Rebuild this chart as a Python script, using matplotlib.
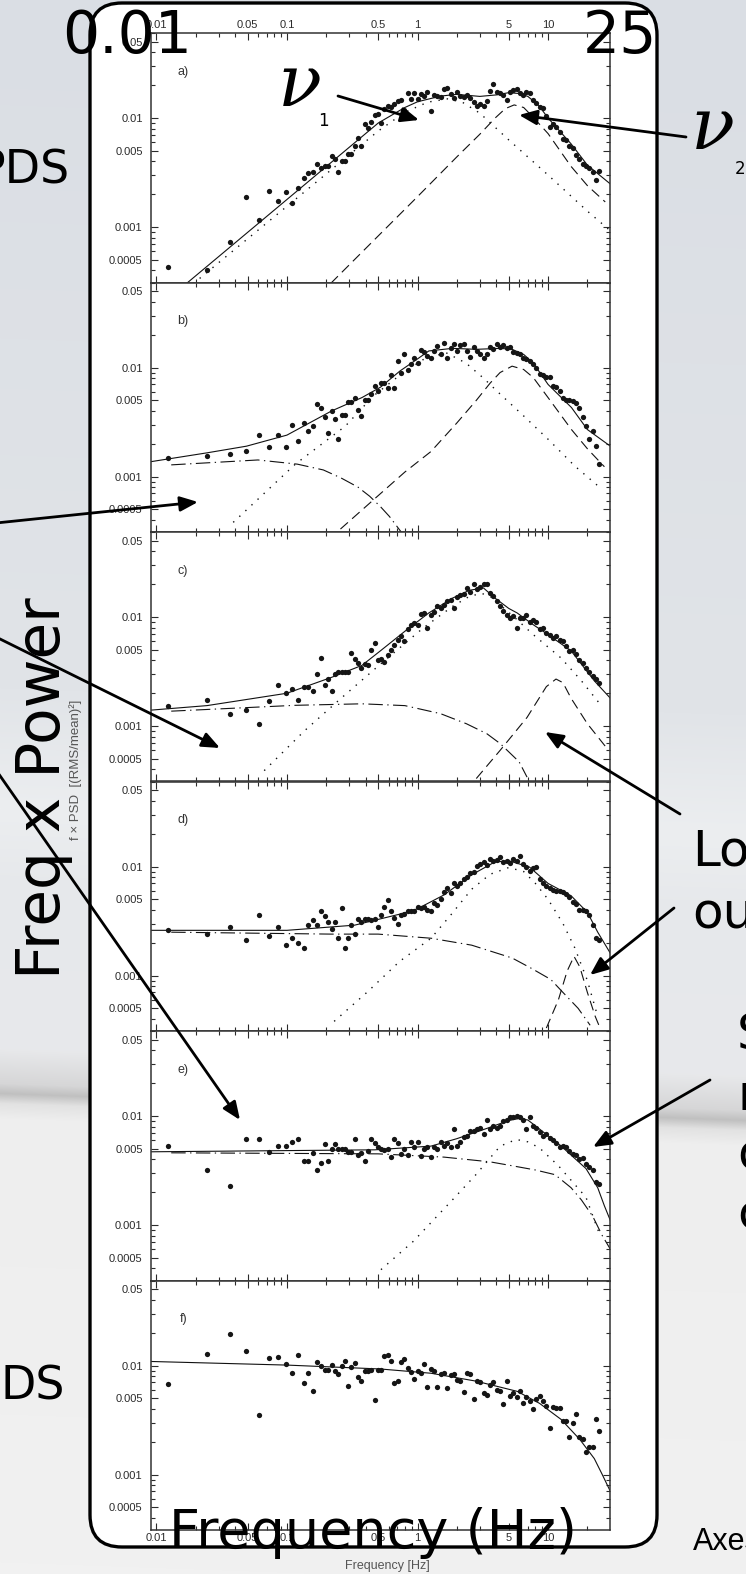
import matplotlib.pyplot as plt
import numpy as np
from matplotlib.patches import FancyBboxPatch
from matplotlib.ticker import NullFormatter

plt.rcParams["font.family"] = ["Liberation Sans", "DejaVu Sans"]

# frequency bins (Hz), shared by all six power spectra
freq = [0.0122, 0.0244, 0.0366, 0.0488, 0.0610, 0.0732, 0.0854, 0.0976, 0.110, 0.122,
        0.134, 0.146, 0.159, 0.171, 0.183, 0.195, 0.207,
        0.220, 0.233, 0.247, 0.262, 0.277, 0.294, 0.312, 0.330, 0.350, 0.371,
        0.394, 0.417, 0.442, 0.469, 0.497, 0.527, 0.558, 0.592, 0.627, 0.665,
        0.705, 0.747, 0.792, 0.839, 0.890, 0.943, 1.000, 1.060, 1.123, 1.190,
        1.262, 1.338, 1.418, 1.503, 1.593, 1.689, 1.790, 1.897, 2.011, 2.132,
        2.259, 2.395, 2.539, 2.691, 2.852, 3.023, 3.205, 3.397, 3.601, 3.817,
        4.046, 4.289, 4.546, 4.819, 5.108, 5.414, 5.739, 6.083, 6.448, 6.835,
        7.244, 7.679, 8.140, 8.628, 9.146, 9.694, 10.28, 10.89, 11.55, 12.24,
        12.97, 13.75, 14.58, 15.45, 16.38, 17.36, 18.40, 19.50, 20.67, 21.91,
        23.23, 24.62]

# f x PSD, panels a) .. f)
psd_a = [0.00043, 0.0004, 0.00073, 0.00188, 0.00117, 0.00215, 0.00175, 0.0021, 0.00167, 0.0023,
         0.0028, 0.0031, 0.0032, 0.0038, 0.0035, 0.0036, 0.0036,
         0.0045, 0.0042, 0.0032, 0.0040, 0.0040, 0.0047, 0.0047, 0.0055, 0.0066, 0.0056,
         0.0089, 0.0081, 0.0092, 0.0107, 0.0110, 0.0091, 0.0120, 0.0129, 0.0125, 0.0135,
         0.0144, 0.0147, 0.0119, 0.0171, 0.0151, 0.0169, 0.0150, 0.0166, 0.0160, 0.0174,
         0.0117, 0.0163, 0.0160, 0.0157, 0.0183, 0.0187, 0.0165, 0.0152, 0.0174, 0.0160,
         0.0155, 0.0163, 0.0152, 0.0140, 0.0128, 0.0135, 0.0129, 0.0142, 0.0178, 0.0205,
         0.0174, 0.0171, 0.0163, 0.0147, 0.0174, 0.0180, 0.0183, 0.0171, 0.0163, 0.0174,
         0.0169, 0.0147, 0.0137, 0.0126, 0.0123, 0.0104, 0.0083, 0.0089, 0.0083, 0.0074,
         0.0064, 0.0063, 0.0055, 0.0053, 0.0046, 0.0042, 0.0038, 0.0036, 0.0035, 0.0032,
         0.0027, 0.0033]
psd_b = [0.00147, 0.00155, 0.0016, 0.00171, 0.0024, 0.00185, 0.0024, 0.00185, 0.0030, 0.0021,
         0.0031, 0.0026, 0.0029, 0.0046, 0.0043, 0.0035, 0.0025,
         0.0040, 0.0034, 0.0022, 0.0037, 0.0037, 0.0048, 0.0048, 0.0053, 0.0041, 0.0036,
         0.0050, 0.0050, 0.0057, 0.0068, 0.0061, 0.0072, 0.0072, 0.0065, 0.0086, 0.0065,
         0.0115, 0.0090, 0.0134, 0.0095, 0.0107, 0.0122, 0.0109, 0.0144, 0.0140, 0.0128,
         0.0122, 0.0142, 0.0158, 0.0134, 0.0169, 0.0123, 0.0152, 0.0163, 0.0142, 0.0161,
         0.0165, 0.0142, 0.0125, 0.0154, 0.0142, 0.0132, 0.0122, 0.0132, 0.0154, 0.0147,
         0.0165, 0.0154, 0.0161, 0.0150, 0.0154, 0.0140, 0.0137, 0.0134, 0.0123, 0.0119,
         0.0115, 0.0107, 0.0100, 0.0087, 0.0086, 0.0082, 0.0082, 0.0068, 0.0066, 0.0061,
         0.0053, 0.0050, 0.0050, 0.0049, 0.0047, 0.0043, 0.0035, 0.0029, 0.0022, 0.0026,
         0.0019, 0.0013]
psd_c = [0.00152, 0.00173, 0.0013, 0.0014, 0.00104, 0.0017, 0.0024, 0.0020, 0.0022, 0.00173,
         0.0023, 0.0023, 0.0021, 0.0030, 0.0042, 0.0024, 0.0027,
         0.0021, 0.0030, 0.0031, 0.0031, 0.0031, 0.0031, 0.0047, 0.0041, 0.0038, 0.0034,
         0.0037, 0.0036, 0.0050, 0.0058, 0.0040, 0.0041, 0.0039, 0.0045, 0.0050, 0.0056,
         0.0062, 0.0067, 0.0060, 0.0077, 0.0084, 0.0088, 0.0085, 0.0106, 0.0108, 0.0080,
         0.0105, 0.0112, 0.0125, 0.0120, 0.0130, 0.0139, 0.0143, 0.0122, 0.0154, 0.0160,
         0.0162, 0.0183, 0.0170, 0.0199, 0.0180, 0.0190, 0.0199, 0.0200, 0.0165, 0.0155,
         0.0139, 0.0125, 0.0113, 0.0105, 0.0099, 0.0103, 0.0080, 0.0098, 0.0097, 0.0105,
         0.0091, 0.0094, 0.0090, 0.0077, 0.0079, 0.0072, 0.0068, 0.0064, 0.0067, 0.0062,
         0.0060, 0.0054, 0.0049, 0.0050, 0.0046, 0.0040, 0.0038, 0.0034, 0.0031, 0.0029,
         0.0027, 0.0025]
psd_d = [0.0026, 0.0024, 0.0028, 0.0021, 0.0036, 0.0023, 0.0028, 0.0019, 0.0022, 0.0020,
         0.0018, 0.0029, 0.0032, 0.0029, 0.0039, 0.0035, 0.0031,
         0.0027, 0.0031, 0.0022, 0.0042, 0.0018, 0.0022, 0.0029, 0.0024, 0.0033, 0.0031,
         0.0033, 0.0033, 0.0032, 0.0033, 0.0028, 0.0036, 0.0043, 0.0049, 0.0039, 0.0034,
         0.0030, 0.0036, 0.0037, 0.0039, 0.0039, 0.0039, 0.0043, 0.0042, 0.0043, 0.0040,
         0.0039, 0.0046, 0.0044, 0.0050, 0.0058, 0.0063, 0.0057, 0.0070, 0.0067, 0.0071,
         0.0077, 0.0080, 0.0088, 0.0090, 0.0102, 0.0106, 0.0110, 0.0104, 0.0117, 0.0113,
         0.0115, 0.0122, 0.0110, 0.0112, 0.0108, 0.0117, 0.0113, 0.0126, 0.0106, 0.0100,
         0.0092, 0.0096, 0.0099, 0.0077, 0.0071, 0.0066, 0.0063, 0.0061, 0.0060, 0.0060,
         0.0058, 0.0056, 0.0053, 0.0047, 0.0045, 0.0040, 0.0040, 0.0039, 0.0036, 0.0029,
         0.0022, 0.0021]
psd_e = [0.0053, 0.0032, 0.0023, 0.0062, 0.0062, 0.0047, 0.0053, 0.0053, 0.0058, 0.0061,
         0.0039, 0.0039, 0.0046, 0.0032, 0.0037, 0.0055, 0.0039,
         0.0050, 0.0055, 0.0050, 0.0050, 0.0050, 0.0047, 0.0047, 0.0061, 0.0044, 0.0046,
         0.0039, 0.0048, 0.0061, 0.0057, 0.0052, 0.0050, 0.0049, 0.0050, 0.0042, 0.0062,
         0.0057, 0.0045, 0.0050, 0.0044, 0.0058, 0.0052, 0.0058, 0.0043, 0.0050, 0.0052,
         0.0042, 0.0052, 0.0050, 0.0058, 0.0053, 0.0057, 0.0052, 0.0076, 0.0053, 0.0058,
         0.0064, 0.0066, 0.0073, 0.0073, 0.0076, 0.0077, 0.0068, 0.0092, 0.0076, 0.0081,
         0.0078, 0.0081, 0.0090, 0.0092, 0.0097, 0.0099, 0.0100, 0.0097, 0.0092, 0.0076,
         0.0097, 0.0081, 0.0078, 0.0071, 0.0066, 0.0068, 0.0063, 0.0060, 0.0057, 0.0052,
         0.0053, 0.0052, 0.0048, 0.0045, 0.0044, 0.0040, 0.0041, 0.0036, 0.0034, 0.0032,
         0.0025, 0.0024]
psd_f = [0.0068, 0.0127, 0.0193, 0.0136, 0.0035, 0.0118, 0.0120, 0.0103, 0.0085, 0.0125,
         0.0069, 0.0086, 0.0058, 0.0107, 0.0100, 0.0091, 0.0091,
         0.0101, 0.0090, 0.0084, 0.0100, 0.0110, 0.0065, 0.0098, 0.0105, 0.0078, 0.0072,
         0.0090, 0.0090, 0.0091, 0.0048, 0.0092, 0.0091, 0.0122, 0.0124, 0.0109, 0.0069,
         0.0072, 0.0107, 0.0114, 0.0095, 0.0088, 0.0075, 0.0090, 0.0085, 0.0103, 0.0064,
         0.0093, 0.0090, 0.0064, 0.0084, 0.0085, 0.0062, 0.0082, 0.0083, 0.0074, 0.0072,
         0.0057, 0.0085, 0.0083, 0.0049, 0.0072, 0.0071, 0.0056, 0.0054, 0.0067, 0.0070,
         0.0060, 0.0058, 0.0044, 0.0072, 0.0053, 0.0056, 0.0052, 0.0058, 0.0045, 0.0052,
         0.0047, 0.0040, 0.0049, 0.0053, 0.0047, 0.0043, 0.0027, 0.0042, 0.0041, 0.0041,
         0.0031, 0.0031, 0.0022, 0.0030, 0.0036, 0.0022, 0.0021, 0.0016, 0.0018, 0.0018,
         0.0032, 0.0025]

# model curves (total fit and components)
a_tot_f = [0.0171, 0.1, 0.5, 0.8, 1.0, 1.5, 2.0, 3.0, 4.0, 5.0, 6.0, 7.0, 8.5, 10, 15, 20, 29.8]
a_tot = [0.000305, 0.00179, 0.0090, 0.0125, 0.0141, 0.0159, 0.0165, 0.0158, 0.0163, 0.0171,
         0.0168, 0.0158, 0.0130, 0.0100, 0.0058, 0.0037, 0.0025]
a_dot_f = [0.0171, 0.1, 0.5, 0.8, 1.2, 1.7, 2.2, 3.0, 5.0, 10, 20, 29.8]
a_dot = [0.00027, 0.00155, 0.0076, 0.0113, 0.0140, 0.0150, 0.0140, 0.0111, 0.0063, 0.0030, 0.0014, 0.00093]
a_dash_f = [0.217, 1.0, 2.0, 3.0, 3.93, 4.7, 5.5, 6.5, 7.5, 10, 15, 20, 27.4]
a_dash = [0.000305, 0.0019, 0.0044, 0.0071, 0.0100, 0.0122, 0.0132, 0.0125, 0.0105, 0.0072, 0.0036, 0.0024, 0.0017]

b_tot_f = [0.0091, 0.0244, 0.049, 0.1, 0.22, 0.375, 0.52, 0.734, 1.0, 1.22, 1.85, 2.82, 4.29, 5.3,
           6.5, 7.7, 10, 15.1, 20, 30]
b_tot = [0.00137, 0.00165, 0.0019, 0.0024, 0.0040, 0.0053, 0.0066, 0.0093, 0.0120, 0.0142, 0.0150,
         0.0147, 0.0150, 0.0147, 0.0132, 0.0110, 0.0070, 0.0043, 0.0027, 0.0019]
b_dd_f = [0.013, 0.06, 0.12, 0.19, 0.26, 0.35, 0.43, 0.52, 0.61, 0.75]
b_dd = [0.00128, 0.00142, 0.0013, 0.00115, 0.00097, 0.0008, 0.00066, 0.00053, 0.00043, 0.00031]
b_dot_f = [0.0388, 0.116, 0.28, 0.46, 0.75, 1.1, 1.65, 2.35, 3.2, 4.3, 6.5, 10, 16, 26]
b_dot = [0.00038, 0.0013, 0.0029, 0.0055, 0.0087, 0.0118, 0.0137, 0.0110, 0.0080, 0.0057, 0.0036,
         0.0022, 0.00125, 0.00076]
b_dash_f = [0.257, 0.48, 0.8, 1.27, 2.0, 2.82, 3.6, 4.29, 5.3, 6.5, 7.7, 10, 15.1, 20, 27]
b_dash = [0.00033, 0.00064, 0.0011, 0.0017, 0.0031, 0.0050, 0.0072, 0.0090, 0.0103, 0.0096, 0.0081,
          0.0053, 0.0027, 0.0018, 0.00123]

c_tot_f = [0.0091, 0.0244, 0.1, 0.22, 0.375, 0.52, 0.8, 1.22, 1.85, 2.5, 3.2, 3.9, 5.0, 5.8, 7.7,
           10, 15, 22.6, 30]
c_tot = [0.0014, 0.00154, 0.0020, 0.0028, 0.0036, 0.0049, 0.0074, 0.0109, 0.0149, 0.0176, 0.0185,
         0.0150, 0.0120, 0.0109, 0.0085, 0.0069, 0.0049, 0.0026, 0.0018]
c_dd_f = [0.013, 0.116, 0.375, 0.8, 1.5, 2.37, 3.4, 4.3, 6.0, 6.9]
c_dd = [0.00137, 0.00155, 0.0016, 0.00154, 0.0013, 0.00105, 0.00085, 0.00069, 0.00047, 0.00034]
c_dot_f = [0.067, 0.137, 0.26, 0.52, 1.1, 1.85, 2.5, 3.1, 3.8, 4.6, 5.5, 7.7, 12.6, 18, 26]
c_dot = [0.00039, 0.00091, 0.0018, 0.0037, 0.0079, 0.0125, 0.0155, 0.0165, 0.0150, 0.0120, 0.0100,
         0.0069, 0.0042, 0.0026, 0.0015]
c_dash_f = [2.82, 4.3, 6.9, 9.7, 11.5, 13, 15, 20, 29]
c_dash = [0.00033, 0.0006, 0.0012, 0.0023, 0.0027, 0.0025, 0.0018, 0.00105, 0.0006]

d_tot_f = [0.0091, 0.1, 0.33, 0.76, 1.0, 1.6, 2.6, 3.9, 5.0, 7.2, 10, 15, 20, 24, 30]
d_tot = [0.0026, 0.0026, 0.0029, 0.0037, 0.0041, 0.0055, 0.0084, 0.0110, 0.0113, 0.0099, 0.0070,
         0.0054, 0.0038, 0.0025, 0.0016]
d_dd_f = [0.013, 0.22, 0.5, 1.27, 2.6, 5.3, 7.4, 10.5, 13, 17, 21]
d_dd = [0.0025, 0.0024, 0.0024, 0.0022, 0.0019, 0.00145, 0.00117, 0.00092, 0.0007, 0.0005, 0.00035]
d_dot_f = [0.23, 0.42, 0.73, 1.27, 1.8, 2.6, 3.6, 5.0, 6.5, 8, 10, 13, 16, 20, 24]
d_dot = [0.00038, 0.00072, 0.00135, 0.0022, 0.0036, 0.0062, 0.0085, 0.0098, 0.0090, 0.0070, 0.0050,
         0.0030, 0.0018, 0.0009, 0.00042]
d_dash_f = [9.7, 12, 14, 15.8, 17.5, 20, 23, 25]
d_dash = [0.00033, 0.0006, 0.0011, 0.0015, 0.0012, 0.0007, 0.00042, 0.00033]

e_tot_f = [0.0091, 0.47, 1.27, 2.0, 3.5, 5.0, 6.0, 7.0, 8.6, 12.6, 19.5, 24, 27, 30]
e_tot = [0.0047, 0.0049, 0.0053, 0.0062, 0.0078, 0.0091, 0.0095, 0.0092, 0.0076, 0.0053, 0.0033,
         0.0022, 0.0015, 0.0011]
e_dd_f = [0.013, 0.5, 1.6, 3.6, 5.3, 8, 11.3, 15, 18, 22, 26, 30]
e_dd = [0.0046, 0.0045, 0.0042, 0.0038, 0.0035, 0.0032, 0.0029, 0.0022, 0.0017, 0.0012, 0.0008, 0.0006]
e_dot_f = [0.525, 0.93, 1.85, 2.8, 4.3, 5.7, 7.0, 8.6, 12, 19.5, 25]
e_dot = [0.00039, 0.00071, 0.0017, 0.0029, 0.0053, 0.0061, 0.0058, 0.0051, 0.0035, 0.0018, 0.0008]

f_tot_f = [0.0091, 0.1, 0.52, 1.27, 2.8, 5.8, 8.6, 12.6, 17.5, 22.6, 26, 30]
f_tot = [0.0109, 0.0101, 0.0093, 0.0085, 0.0072, 0.0058, 0.0045, 0.0032, 0.0021, 0.0014, 0.0010, 0.0007]

panel_tags = ["a)", "b)", "c)", "d)", "e)", "f)"]
x_ticks = [0.01, 0.05, 0.1, 0.5, 1, 5, 10]
x_ticklabels = ["0.01", "0.05", "0.1", "0.5", "1", "5", "10"]
y_ticks = [0.0005, 0.001, 0.005, 0.01, 0.05]
y_ticklabels = ["0.0005", "0.001", "0.005", "0.01", "0.05"]

styles = {
    "solid": dict(ls="-", lw=0.8),
    "dotted": dict(ls=(0, (1, 5)), lw=1.0),
    "dashed": dict(ls=(0, (9, 5)), lw=0.8),
    "dashdot": dict(ls=(0, (13, 4, 1.2, 4)), lw=0.8),
}
panels = [
    (psd_a, [(a_tot_f, a_tot, "solid"), (a_dot_f, a_dot, "dotted"), (a_dash_f, a_dash, "dashed")]),
    (psd_b, [(b_tot_f, b_tot, "solid"), (b_dd_f, b_dd, "dashdot"), (b_dot_f, b_dot, "dotted"),
             (b_dash_f, b_dash, "dashed")]),
    (psd_c, [(c_tot_f, c_tot, "solid"), (c_dd_f, c_dd, "dashdot"), (c_dot_f, c_dot, "dotted"),
             (c_dash_f, c_dash, "dashed")]),
    (psd_d, [(d_tot_f, d_tot, "solid"), (d_dd_f, d_dd, "dashdot"), (d_dot_f, d_dot, "dotted"),
             (d_dash_f, d_dash, "dashed")]),
    (psd_e, [(e_tot_f, e_tot, "solid"), (e_dd_f, e_dd, "dashdot"), (e_dot_f, e_dot, "dotted")]),
    (psd_f, [(f_tot_f, f_tot, "solid")]),
]

W, H = 746, 1574
fig = plt.figure(figsize=(W / 100, H / 100), dpi=100)

# slide background (snowy photo, approximated by a soft vertical gradient)
bg = fig.add_axes([0, 0, 1, 1], zorder=0)
stop_y = [0, 700, 820, 900, 1060, 1095, 1105, 1115, 1130, 1574]
stop_rgb = [(218, 222, 228), (225, 228, 232), (236, 238, 240), (230, 232, 235), (232, 233, 235),
            (214, 214, 215), (192, 192, 192), (226, 226, 226), (238, 238, 238), (241, 241, 241)]
rows = np.arange(H)[:, None] - (np.arange(W)[None, :] / W * 27 - 12)
img = np.stack([np.interp(rows, stop_y, [c[k] for c in stop_rgb]) for k in range(3)], axis=-1) / 255
bg.imshow(img, extent=(0, W, H, 0), aspect="auto", interpolation="bilinear")
bg.add_patch(FancyBboxPatch((90, 3), 567, 1544, boxstyle="round,pad=0,rounding_size=32",
                            fc="white", ec="black", lw=2.4))
bg.set_xlim(0, W)
bg.set_ylim(H, 0)
bg.axis("off")

# the six stacked log-log panels
ph = 249.5
for i, (psd, curves) in enumerate(panels):
    top = 33 + ph * i
    ax = fig.add_axes([151 / W, 1 - (top + ph) / H, 459 / W, ph / H], zorder=2)
    ax.set_xscale("log")
    ax.set_yscale("log")
    for cf, cv, st in curves:
        ax.plot(cf, cv, color="#111111", **styles[st])
    ax.plot(freq, psd, "o", ms=3.8, color="#151515", mec="none")
    ax.set_xlim(0.0091, 29.8)
    ax.set_ylim(0.00031, 0.0603)
    ax.set_xticks(x_ticks, x_ticklabels)
    ax.set_yticks(y_ticks, y_ticklabels)
    ax.xaxis.set_minor_formatter(NullFormatter())
    ax.yaxis.set_minor_formatter(NullFormatter())
    ax.tick_params(which="both", direction="in", top=True, right=True, colors="#2b2b2b",
                   labelsize=8, width=0.8)
    ax.tick_params(which="major", length=5)
    ax.tick_params(which="minor", length=2.8)
    ax.tick_params(axis="y", pad=6)
    ax.tick_params(axis="x", pad=2, labeltop=(i == 0), labelbottom=(i == 5))
    for sp in ax.spines.values():
        sp.set_color("#333333")
        sp.set_linewidth(1.1)
    ax.text(0.07, 0.845, panel_tags[i], transform=ax.transAxes, fontsize=9,
            color="#333333", ha="center", va="center")

# overlay: axis titles, slide annotations and arrows, in pixel coordinates
ov = fig.add_axes([0, 0, 1, 1], zorder=10)
ov.set_xlim(0, W)
ov.set_ylim(H, 0)
ov.axis("off")
ov.patch.set_alpha(0)

ov.text(76, 770, "f × PSD  [(RMS/mean)²]", rotation=90, ha="center", va="center",
        fontsize=9.5, color="#555555")
ov.text(387, 1566, "Frequency [Hz]", ha="center", va="center", fontsize=9, color="#555555")

hand = dict(family="DejaVu Sans", color="black")
ov.text(127, 53, "0.01", ha="center", va="baseline", fontsize=42, **hand)
ov.text(620, 53, "25", ha="center", va="baseline", fontsize=42, **hand)
ov.text(373, 1548, "Frequency (Hz)", ha="center", va="baseline", fontsize=39, **hand)
ov.text(60, 788, "Freq x Power", rotation=90, rotation_mode="anchor", ha="center",
        va="baseline", fontsize=43, **hand)
ov.text(70, 183, "PDS", ha="right", va="baseline", fontsize=33, **hand)
ov.text(65, 1400, "DS", ha="right", va="baseline", fontsize=33, **hand)
ov.text(692, 865, "Lor", ha="left", va="baseline", fontsize=36, **hand)
ov.text(692, 927, "out", ha="left", va="baseline", fontsize=36, **hand)
for yy, s in zip([1050, 1110, 1170, 1230], ["S", "n", "o", "c"]):
    ov.text(737, yy, s, ha="left", va="baseline", fontsize=36, **hand)
ov.text(693, 1550, "Axes", ha="left", va="baseline", fontsize=22, color="black")

nu = dict(family="DejaVu Serif", style="italic", color="black", fontsize=52)
ov.text(300, 86, "ν", ha="center", va="center", **nu)
ov.text(323, 121, "1", ha="center", va="center", fontsize=12, **hand)
ov.text(713, 129, "ν", ha="center", va="center", **nu)
ov.text(740, 169, "2", ha="center", va="center", fontsize=12, **hand)

arrows = [
    ((338, 96), (419, 120)),
    ((686, 137), (519, 115)),
    ((-4, 523), (198, 502)),
    ((-4, 637), (220, 748)),
    ((-4, 770), (240, 1120)),
    ((680, 814), (545, 732)),
    ((674, 908), (590, 975)),
    ((710, 1080), (593, 1147)),
]
for start, tip in arrows:
    ov.annotate("", xy=tip, xytext=start, annotation_clip=False,
                arrowprops=dict(arrowstyle="-|>,head_length=0.6,head_width=0.25", color="black",
                                lw=2.0, mutation_scale=18, shrinkA=0, shrinkB=0))

fig.savefig("out.png", dpi=100)
